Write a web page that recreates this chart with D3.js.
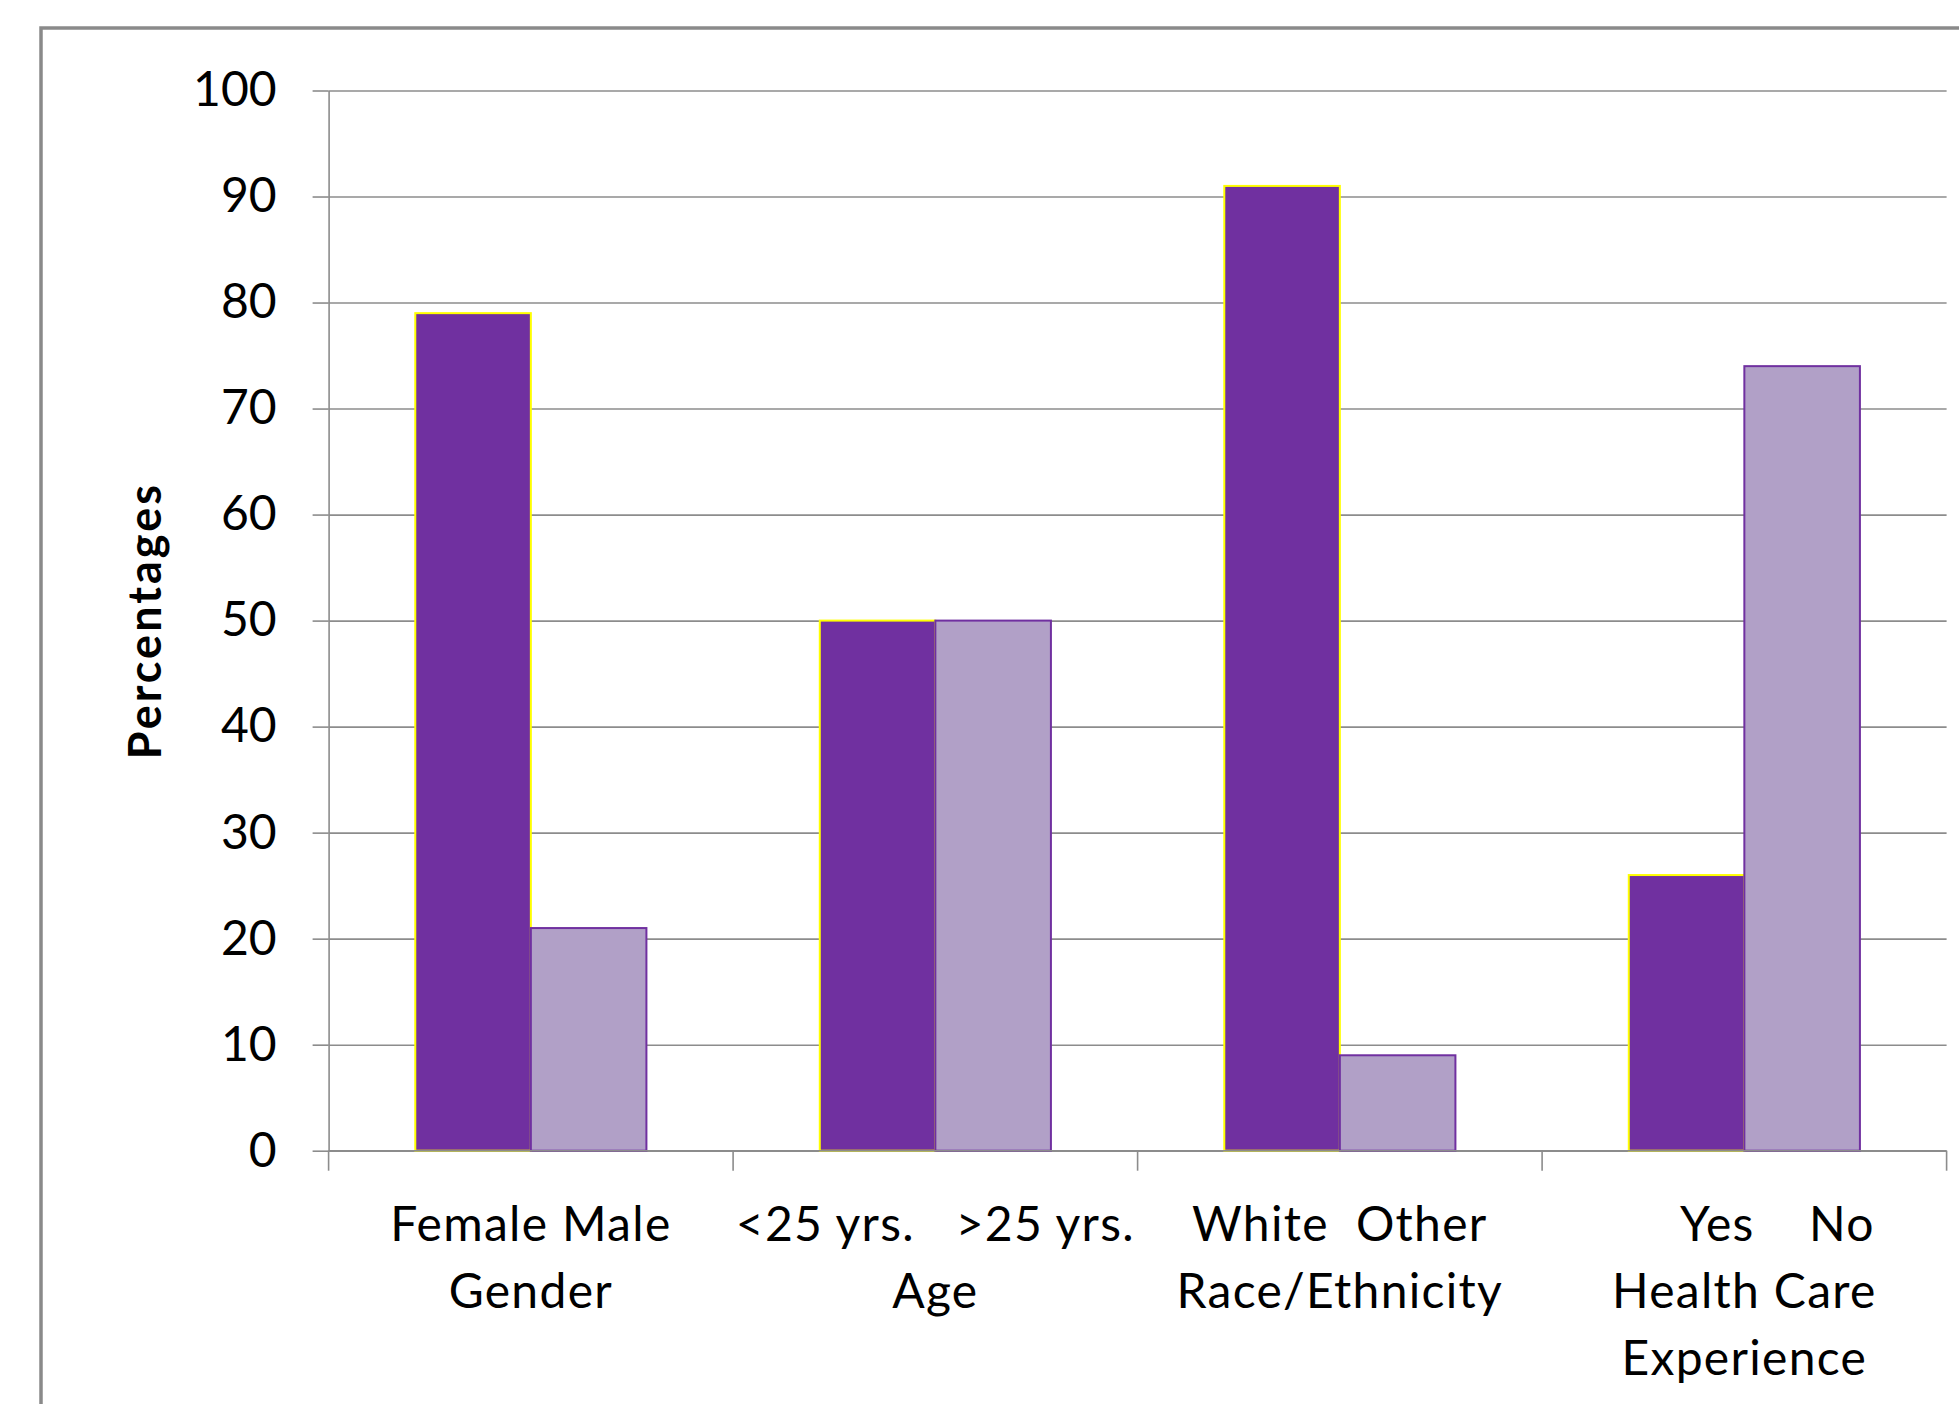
<!DOCTYPE html>
<html>
<head>
<meta charset="utf-8">
<script src="https://cdn.jsdelivr.net/npm/d3@7"></script>
<style>
  html, body { margin: 0; padding: 0; background: #fff; }
  svg { display: block; }
  text { font-family: Lato, "Open Sans", sans-serif; fill: #000; }
</style>
</head>
<body>
<svg id="chart" width="1959" height="1404"></svg>
<script>
// Category groups (two-line / three-line axis labels)
const groups = ["Gender", "Age", "Race/Ethnicity", "Health Care Experience"];
const groupLabels = [
  ["Female Male", "Gender"],
  ["<25 yrs.   >25 yrs.", "Age"],
  ["White  Other", "Race/Ethnicity"],
  ["     Yes    No", "Health Care", "Experience"]
];
// First and second sub-group percentages within each group
const firstValues = [79, 50, 91, 26];
const secondValues = [21, 50, 9, 74];
const yTicks = [0, 10, 20, 30, 40, 50, 60, 70, 80, 90, 100];

const svg = d3.select("#chart");
const W = 1959, H = 1404;
const margin = { left: 328.6, top: 90.5, right: W - 1946.6, bottom: H - 1150.7 };
const plotW = W - margin.left - margin.right;
const plotH = H - margin.top - margin.bottom;

// outer chart frame
svg.append("rect")
  .attr("x", 41).attr("y", 28)
  .attr("width", 2000).attr("height", 1500)
  .attr("fill", "#fff")
  .attr("stroke", "#8a8a8a").attr("stroke-width", 3.5);

const g = svg.append("g").attr("transform", `translate(${margin.left},${margin.top})`);

const x = d3.scaleBand().domain(groups).range([0, plotW]).paddingInner(0).paddingOuter(0);
const y = d3.scaleLinear().domain([0, 100]).range([plotH, 0]);

// gridlines with outward tick marks
const grid = g.append("g")
  .call(d3.axisLeft(y).tickValues(yTicks).tickSizeInner(-plotW).tickSizeOuter(0).tickFormat(""));
grid.select(".domain").remove();
grid.selectAll(".tick line").attr("stroke", "#8c8c8c").attr("stroke-width", 1.6);

const yAxis = g.append("g")
  .call(d3.axisLeft(y).tickValues(yTicks).tickSizeInner(16).tickSizeOuter(0).tickPadding(36));
yAxis.select(".domain").attr("stroke", "#8c8c8c").attr("stroke-width", 1.6);
yAxis.selectAll(".tick line").attr("stroke", "#8c8c8c").attr("stroke-width", 1.6);
yAxis.selectAll(".tick text")
  .style("font-family", "Lato, sans-serif")
  .attr("font-size", 48).attr("fill", "#000");

// bars: gap width 150% of bar width
const barW = x.bandwidth() / 3.5;
const barsG = g.append("g");
groups.forEach((grp, i) => {
  const x0 = x(grp) + barW * 0.75;
  barsG.append("rect")
    .attr("x", x0).attr("y", y(firstValues[i]))
    .attr("width", barW).attr("height", y(0) - y(firstValues[i]))
    .attr("fill", "#7030a0").attr("stroke", "#ffff00").attr("stroke-width", 2);
  barsG.append("rect")
    .attr("x", x0 + barW).attr("y", y(secondValues[i]))
    .attr("width", barW).attr("height", y(0) - y(secondValues[i]))
    .attr("fill", "#b1a0c7").attr("stroke", "#7030a0").attr("stroke-width", 2);
});

// category axis with boundary ticks
const xAxisG = g.append("g").attr("transform", `translate(0,${plotH})`);
xAxisG.append("line")
  .attr("x1", 0).attr("x2", plotW).attr("y1", 0).attr("y2", 0)
  .attr("stroke", "#8c8c8c").attr("stroke-width", 1.6);
const bounds = groups.map(d => x(d)).concat([plotW]);
xAxisG.selectAll("line.tk").data(bounds).join("line")
  .attr("class", "tk")
  .attr("x1", d => d).attr("x2", d => d).attr("y1", 0).attr("y2", 20)
  .attr("stroke", "#8c8c8c").attr("stroke-width", 1.6);

groups.forEach((grp, i) => {
  const t = xAxisG.append("text")
    .attr("x", x(grp) + x.bandwidth() / 2)
    .attr("y", 90)
    .attr("text-anchor", "middle")
    .attr("font-size", 48)
    .attr("letter-spacing", 1.3)
    .style("white-space", "pre");
  groupLabels[i].forEach((line, k) => {
    t.append("tspan")
      .attr("x", x(grp) + x.bandwidth() / 2)
      .attr("y", 90 + k * 67)
      .text(line);
  });
});

// y axis title
svg.append("text")
  .attr("transform", `translate(161,${margin.top + plotH / 2}) rotate(-90)`)
  .attr("text-anchor", "middle")
  .attr("font-size", 45)
  .attr("letter-spacing", 3)
  .attr("font-weight", "bold")
  .text("Percentages");
</script>
</body>
</html>
